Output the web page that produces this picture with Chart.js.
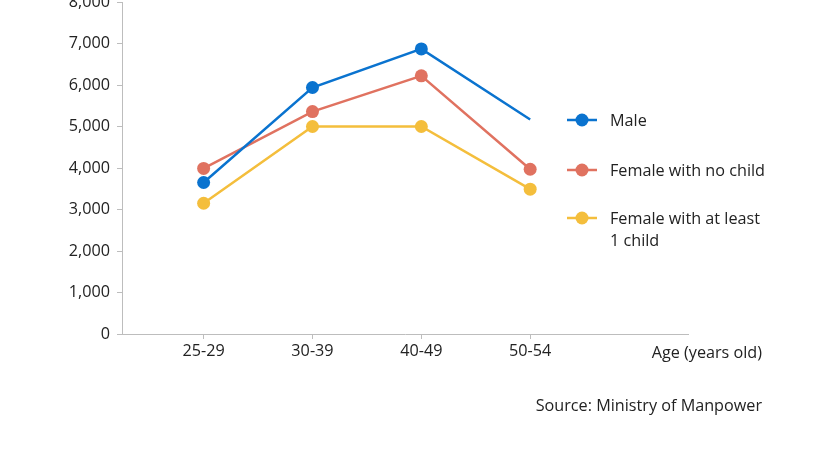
<!DOCTYPE html>
<html lang="en">
<head>
    <meta charset="UTF-8">
    <title>Wages by age</title>
    <script src="https://cdn.jsdelivr.net/npm/chart.js"></script>
    <style>
        html, body {
            margin: 0;
            padding: 0;
            background: #fff;
        }
        #wrap {
            position: relative;
            width: 830px;
            height: 468px;
            overflow: hidden;
        }
        #wrap canvas {
            position: absolute;
            left: 0;
            top: -40px;
        }
    </style>
</head>
<body>
    <div id="wrap">
        <canvas id="ageChart" width="830" height="510"></canvas>
    </div>

    <script>
        // data
        const categories = ["25-29", "30-39", "40-49", "50-54"];
        const male = [3650, 5940, 6870, 5170];
        const femaleNoChild = [3990, 5360, 6220, 3970];
        const femaleWithChild = [3150, 5000, 5000, 3490];
        const seriesNames = ["Male", "Female with no child", ["Female with at least", "1 child"]];
        const yTicks = [0, 1000, 2000, 3000, 4000, 5000, 6000, 7000, 8000];

        const colors = ["#0a73cf", "#e07260", "#f4be3c"];
        const FONT = "'Open Sans', Lato, sans-serif";
        const FSIZE = 16.2;

        const toPoints = arr => arr.map((v, i) => ({ x: i, y: v }));

        // legend and extra labels drawn on the canvas
        const extras = {
            id: "extras",
            afterDraw(chart) {
                const ctx = chart.ctx;
                ctx.save();
                ctx.font = FSIZE + "px " + FONT;
                ctx.fillStyle = "#222";
                ctx.textBaseline = "middle";

                const rows = [160, 210, 258];
                seriesNames.forEach((name, i) => {
                    const y = rows[i];
                    ctx.strokeStyle = colors[i];
                    ctx.lineWidth = 2.5;
                    ctx.beginPath();
                    ctx.moveTo(567, y);
                    ctx.lineTo(597, y);
                    ctx.stroke();
                    ctx.fillStyle = colors[i];
                    ctx.beginPath();
                    ctx.arc(582, y, 6.5, 0, Math.PI * 2);
                    ctx.fill();
                    ctx.fillStyle = "#222";
                    ctx.textAlign = "left";
                    const lines = Array.isArray(name) ? name : [name];
                    lines.forEach((t, j) => ctx.fillText(t, 610, y + 1 + j * 22));
                });

                ctx.textAlign = "right";
                ctx.fillText("Age (years old)", 762, 393);
                ctx.fillText("Source: Ministry of Manpower", 762, 446);
                ctx.restore();
            }
        };

        const makeSet = (label, data, color, radius) => ({
            label: label,
            data: toPoints(data),
            borderColor: color,
            backgroundColor: color,
            borderWidth: 2.5,
            pointRadius: radius,
            pointHoverRadius: radius,
            pointBorderWidth: 0,
            tension: 0
        });

        new Chart(document.getElementById("ageChart"), {
            type: "line",
            data: {
                datasets: [
                    makeSet("Male", male, colors[0], [6.5, 6.5, 6.5, 0]),
                    makeSet("Female with no child", femaleNoChild, colors[1], 6.5),
                    makeSet("Female with at least 1 child", femaleWithChild, colors[2], 6.5)
                ]
            },
            options: {
                responsive: false,
                animation: false,
                layout: { padding: { top: 42, right: 142, left: 0, bottom: 0 } },
                plugins: {
                    legend: { display: false },
                    tooltip: { enabled: false }
                },
                scales: {
                    x: {
                        type: "linear",
                        min: -0.75,
                        max: 4.45,
                        afterBuildTicks: scale => {
                            scale.ticks = categories.map((c, i) => ({ value: i }));
                        },
                        afterFit: scale => { scale.height = 136; },
                        border: { color: "#bdbdbd", width: 1 },
                        grid: { drawOnChartArea: false, color: "#bdbdbd", tickLength: 5 },
                        ticks: {
                            callback: v => categories[v],
                            color: "#222",
                            font: { family: FONT, size: FSIZE },
                            padding: 3,
                            maxRotation: 0
                        }
                    },
                    y: {
                        min: 0,
                        max: 8000,
                        afterBuildTicks: scale => {
                            scale.ticks = yTicks.map(v => ({ value: v }));
                        },
                        afterFit: scale => { scale.width = 122; },
                        border: { color: "#bdbdbd", width: 1 },
                        grid: { drawOnChartArea: false, color: "#bdbdbd", tickLength: 5 },
                        ticks: {
                            callback: v => v.toLocaleString("en-US"),
                            color: "#222",
                            font: { family: FONT, size: FSIZE },
                            padding: 7
                        }
                    }
                }
            },
            plugins: [extras]
        });
    </script>
</body>
</html>
